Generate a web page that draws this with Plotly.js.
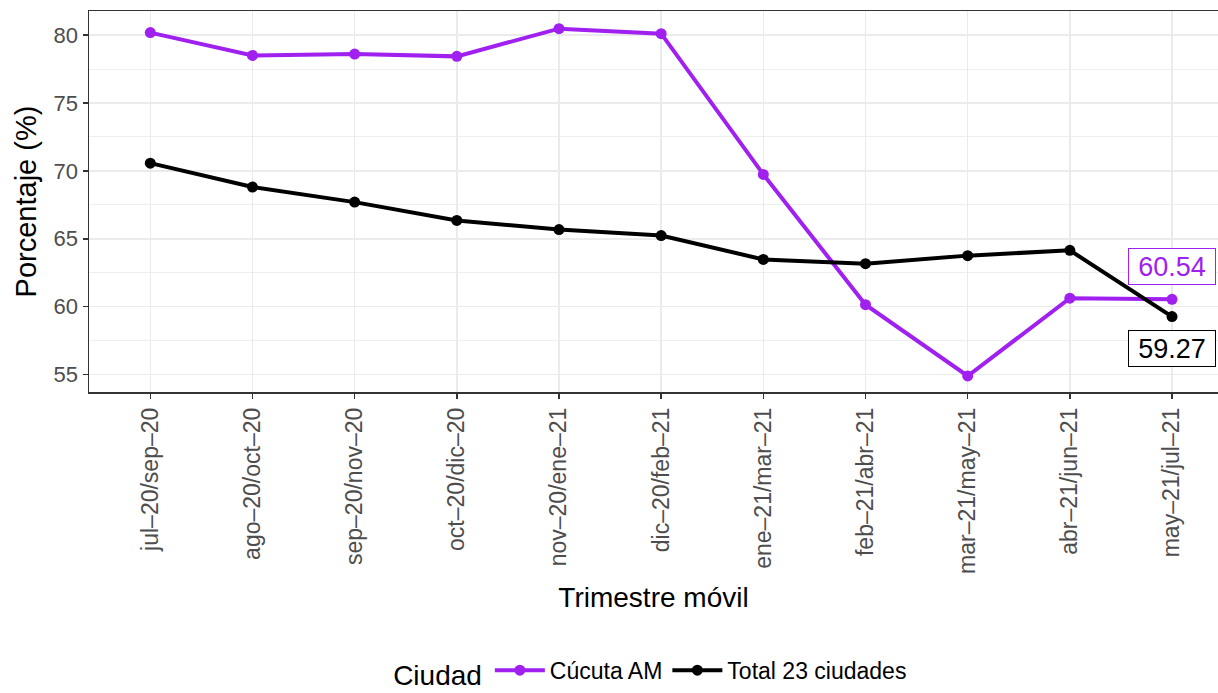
<!DOCTYPE html>
<html>
<head>
<meta charset="utf-8">
<script src="https://cdn.plot.ly/plotly-3.0.1.min.js"></script>
<style>html,body{margin:0;padding:0;background:#fff;}#chart{width:1218px;height:693px;}</style>
</head>
<body>
<div id="chart"></div>
<script>
const categories = ["jul–20/sep–20","ago–20/oct–20","sep–20/nov–20","oct–20/dic–20","nov–20/ene–21","dic–20/feb–21","ene–21/mar–21","feb–21/abr–21","mar–21/may–21","abr–21/jun–21","may–21/jul–21"];
const cucuta = [80.18, 78.50, 78.60, 78.43, 80.47, 80.10, 69.74, 60.15, 54.90, 60.63, 60.54];
const total23 = [70.57, 68.81, 67.70, 66.35, 65.68, 65.24, 63.48, 63.17, 63.76, 64.15, 59.27];
const seriesNames = ["Cúcuta AM", "Total 23 ciudades"];
const colors = ["#A020F0", "#000000"];

const font = "Liberation Sans, Arial, sans-serif";
const traces = [cucuta, total23].map((vals, i) => ({
  type: "scatter", mode: "lines+markers",
  x: categories, y: vals, name: seriesNames[i],
  line: {color: colors[i], width: 4},
  marker: {color: colors[i], size: 11},
  cliponaxis: false
}));

const last = categories.length - 1;
const annotations = [
  {x: categories[last], y: cucuta[last], xref: "x", yref: "y", yshift: 33,
   text: cucuta[last].toFixed(2), showarrow: false,
   font: {family: font, size: 27, color: colors[0]},
   width: 80, height: 29,
   bgcolor: "#ffffff", bordercolor: colors[0], borderwidth: 1, borderpad: 3},
  {x: categories[last], y: total23[last], xref: "x", yref: "y", yshift: -32,
   text: total23[last].toFixed(2), showarrow: false,
   font: {family: font, size: 27, color: colors[1]},
   width: 80, height: 29,
   bgcolor: "#ffffff", bordercolor: colors[1], borderwidth: 1, borderpad: 3}
];

const layout = {
  width: 1218, height: 693,
  margin: {l: 89, r: 0, t: 11, b: 301, autoexpand: false},
  paper_bgcolor: "#ffffff", plot_bgcolor: "#ffffff",
  font: {family: font},
  showlegend: true,
  legend: {
    orientation: "h", xref: "container", yref: "container",
    x: 0.535, xanchor: "center", y: 0.03, yanchor: "middle",
    title: {text: "Ciudad", side: "left", font: {family: font, size: 28, color: "#000"}},
    font: {family: font, size: 23, color: "#000"},
    itemwidth: 50
  },
  xaxis: {
    type: "category", range: [-0.6, 10.45], fixedrange: true, automargin: false,
    showgrid: true, gridcolor: "#EBEBEB", gridwidth: 1.5,
    showline: true, linecolor: "#333333", linewidth: 1.5, mirror: true,
    ticks: "outside", ticklen: 5, tickwidth: 1.5, tickcolor: "#333333",
    tickangle: -90,
    tickfont: {family: font, size: 23, color: "#4D4D4D"},
    title: {text: "Trimestre móvil", font: {family: font, size: 28, color: "#000"}, standoff: 14},
    zeroline: false
  },
  yaxis: {
    range: [53.72, 81.77], fixedrange: true, automargin: false,
    tickmode: "array", tickvals: [55, 60, 65, 70, 75, 80],
    showgrid: true, gridcolor: "#EBEBEB", gridwidth: 1.5,
    minor: {tickmode: "array", tickvals: [57.5, 62.5, 67.5, 72.5, 77.5], showgrid: true, gridcolor: "#EBEBEB", gridwidth: 0.8, ticks: ""},
    showline: true, linecolor: "#333333", linewidth: 1.5, mirror: false,
    ticks: "outside", ticklen: 5, tickwidth: 1.5, tickcolor: "#333333",
    tickfont: {family: font, size: 22, color: "#4D4D4D"},
    title: {text: "Porcentaje (%)", font: {family: font, size: 29, color: "#000"}, standoff: 8},
    zeroline: false
  },
  annotations: annotations
};

Plotly.newPlot("chart", traces, layout, {displayModeBar: false, staticPlot: true});
</script>
</body>
</html>
